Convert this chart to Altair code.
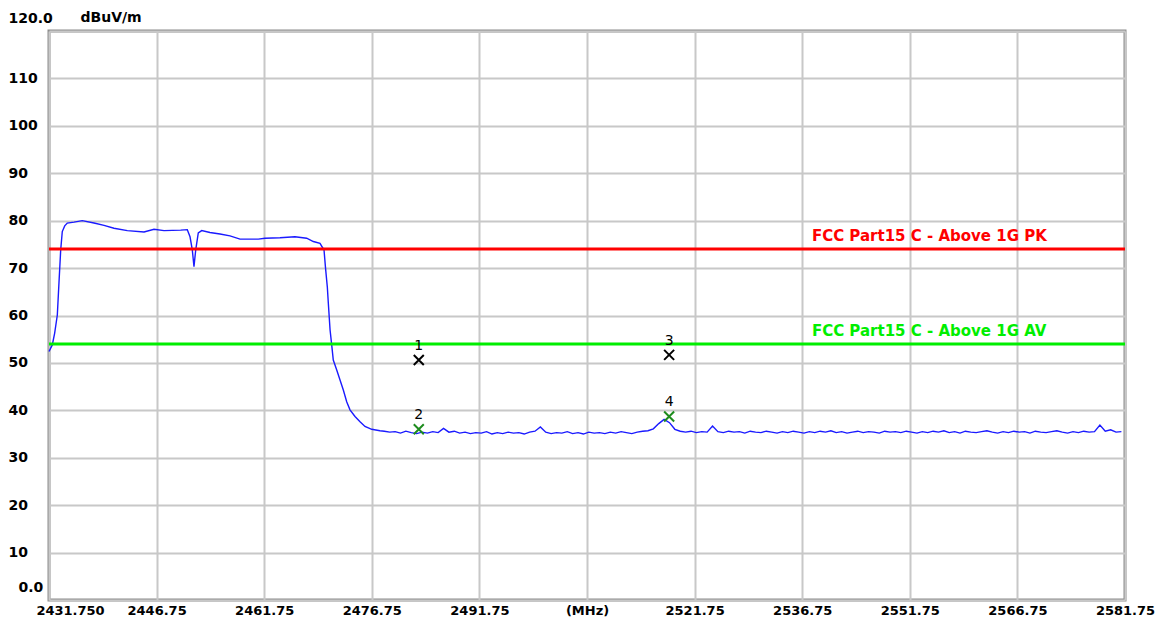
import altair as alt
import pandas as pd

# ---------------- data ----------------
# Transmitter band: rise, plateau with notch, steep fall (MHz, dBuV/m)
edge_freq = [2431.75, 2432.21, 2432.54, 2432.91, 2433.14, 2433.38, 2433.60, 2433.94,
             2434.30, 2435.24, 2436.39, 2438.02, 2439.42, 2440.81, 2442.67, 2445.00,
             2446.39, 2447.78, 2450.11, 2451.03, 2451.41, 2451.73, 2451.96, 2452.20,
             2452.56, 2453.04, 2454.19, 2455.59, 2456.98, 2458.38, 2460.93, 2461.86,
             2463.95, 2466.04, 2467.67, 2468.60, 2469.53, 2470.09, 2470.30, 2470.55,
             2470.69, 2470.93, 2471.16, 2471.38, 2471.86, 2472.32, 2472.78, 2473.25,
             2473.71, 2474.41, 2475.11, 2475.80, 2476.74, 2477.89]
edge_level = [52.4, 53.8, 56.3, 60.1, 66.9, 73.8, 77.7, 78.9,
              79.5, 79.7, 80.0, 79.5, 79.0, 78.4, 77.9, 77.6,
              78.2, 77.9, 78.0, 78.1, 76.6, 73.8, 70.3, 73.8,
              77.4, 77.9, 77.5, 77.2, 76.8, 76.1, 76.1, 76.3,
              76.4, 76.6, 76.3, 75.6, 75.2, 73.8, 70.0, 66.0,
              62.6, 57.0, 53.8, 50.6, 48.5, 46.4, 44.3, 41.8,
              40.1, 38.7, 37.6, 36.6, 36.0, 35.7]

# Noise floor, sampled every 0.75 MHz from 2478.5 MHz
floor_start = 2478.5
floor_step = 0.75
floor_level = [35.6, 35.4, 35.5, 35.2, 35.6, 35.3, 35.1, 35.4, 35.2, 35.5,
               35.3, 36.2, 35.4, 35.6, 35.2, 35.4, 35.1, 35.3, 35.2, 35.5,
               35.0, 35.3, 35.1, 35.4, 35.2, 35.3, 35.0, 35.4, 35.6, 36.5,
               35.4, 35.1, 35.3, 35.2, 35.5, 35.1, 35.3, 35.0, 35.4, 35.2,
               35.3, 35.1, 35.4, 35.2, 35.5, 35.3, 35.1, 35.4, 35.6, 35.7,
               36.1, 37.2, 38.1, 37.4, 36.0, 35.6, 35.4, 35.6, 35.3, 35.5,
               35.4, 36.7, 35.5, 35.3, 35.6, 35.4, 35.5, 35.2, 35.6, 35.4,
               35.3, 35.6, 35.4, 35.2, 35.5, 35.3, 35.6, 35.4, 35.2, 35.5,
               35.3, 35.6, 35.4, 35.7, 35.3, 35.5, 35.2, 35.4, 35.6, 35.3,
               35.5, 35.4, 35.2, 35.6, 35.4, 35.5, 35.3, 35.6, 35.4, 35.2,
               35.5, 35.3, 35.6, 35.4, 35.7, 35.3, 35.5, 35.2, 35.6, 35.4,
               35.3, 35.5, 35.7, 35.4, 35.2, 35.5, 35.3, 35.6, 35.4, 35.5,
               35.2, 35.6, 35.4, 35.3, 35.5, 35.7, 35.4, 35.2, 35.5, 35.3,
               35.6, 35.4, 35.5, 36.9, 35.6, 35.9, 35.4, 35.5]

# Limit lines
limit_name = ["FCC Part15 C - Above 1G PK", "FCC Part15 C - Above 1G AV"]
limit_level = [74, 54]
limit_color = ["#ff0000", "#00ee00"]
limit_label_freq = 2538.1

# Markers
marker_id = ["1", "2", "3", "4"]
marker_freq = [2483.3, 2483.3, 2518.2, 2518.2]
marker_level = [50.6, 36.0, 51.7, 38.7]
marker_color = ["#000000", "#1e8c1e", "#000000", "#1e8c1e"]

# Axis ticks
x_ticks = [2431.75, 2446.75, 2461.75, 2476.75, 2491.75, 2506.75,
           2521.75, 2536.75, 2551.75, 2566.75, 2581.75]
y_ticks = [0, 10, 20, 30, 40, 50, 60, 70, 80, 90, 100, 110, 120]

# ---------------- tables ----------------
floor_freq = [floor_start + floor_step * i for i in range(len(floor_level))]
trace = pd.DataFrame({"freq": edge_freq + floor_freq,
                      "level": edge_level + floor_level})
limits = pd.DataFrame({"name": limit_name, "level": limit_level,
                       "color": limit_color,
                       "lx": [limit_label_freq] * len(limit_name)})
markers = pd.DataFrame({"id": marker_id, "freq": marker_freq,
                        "level": marker_level, "color": marker_color})

FONT = "DejaVu Sans"
xscale = alt.Scale(domain=[2431.75, 2581.75], nice=False, zero=False)
yscale = alt.Scale(domain=[0, 120], nice=False, zero=False)

xaxis = alt.Axis(
    values=x_ticks, title=None,
    labelExpr="datum.value < 2432 ? '2431.750' : (abs(datum.value - 2506.75) < 0.01 ? '(MHz)' : format(datum.value, '.2f'))",
    labelOffset={"condition": {"test": "datum.value < 2432", "value": 21}, "value": 0},
    labelPadding=4, labelFont=FONT, labelFontSize=13, labelFontWeight="bold",
    labelColor="#000000", labelFlush=False, labelOverlap=False,
    ticks=False, tickSize=0, domain=False,
    grid=True, gridColor="#c8c8c8", gridWidth=2,
)
yaxis = alt.Axis(
    values=y_ticks, title="dBuV/m", titleAngle=0, titleAlign="left",
    titleBaseline="middle", titleX=31, titleY=-14, titleFont=FONT,
    titleFontSize=14, titleFontWeight="bold", titleColor="#000000",
    labelExpr="datum.value == 120 ? '120.0' : (datum.value == 0 ? '0.0' : datum.label)",
    labelAlign="left", labelBaseline="middle",
    labelPadding={"condition": {"test": "datum.value == 0", "value": 31}, "value": 41},
    labelOffset={"condition": {"test": "datum.value == 0 || datum.value == 120", "value": -13}, "value": 0},
    labelFont=FONT, labelFontSize=14, labelFontWeight="bold", labelColor="#000000",
    labelFlush=False, labelOverlap=False,
    ticks=False, tickSize=0, domain=False,
    grid=True, gridColor="#c8c8c8", gridWidth=2,
)

X = lambda f: alt.X(f, scale=xscale, axis=xaxis)
Y = lambda f: alt.Y(f, scale=yscale, axis=yaxis)

line = alt.Chart(trace).mark_line(color="#1a1aff", strokeWidth=1.4).encode(
    x=X("freq:Q"), y=Y("level:Q"),
)

rules = alt.Chart(limits).mark_rule(strokeWidth=3).encode(
    y=Y("level:Q"),
    color=alt.Color("color:N", scale=None),
)

limit_text = alt.Chart(limits).mark_text(
    align="left", baseline="middle", dy=-13, font=FONT, fontSize=15, fontWeight="bold"
).encode(
    x=X("lx:Q"), y=Y("level:Q"),
    text="name:N",
    color=alt.Color("color:N", scale=None),
)

marker_pts = alt.Chart(markers).mark_point(
    shape="M-1,-1L1,1M1,-1L-1,1", filled=False, size=100, strokeWidth=2, opacity=1
).encode(
    x=X("freq:Q"), y=Y("level:Q"),
    color=alt.Color("color:N", scale=None),
)

marker_lbl = alt.Chart(markers).mark_text(
    align="center", baseline="middle", dy=-14, font=FONT, fontSize=14, color="#000000"
).encode(
    x=X("freq:Q"), y=Y("level:Q"),
    text="id:N",
)

chart = alt.layer(line, rules, limit_text, marker_pts, marker_lbl).properties(
    width=1076, height=569,
    autosize="none",
    padding={"left": 41, "top": 23, "right": 36, "bottom": 18},
    background="#ffffff",
).configure_view(stroke="#8c8c8c", strokeWidth=3)

chart.save("out.html", embed_options={"renderer": "svg", "actions": False})
